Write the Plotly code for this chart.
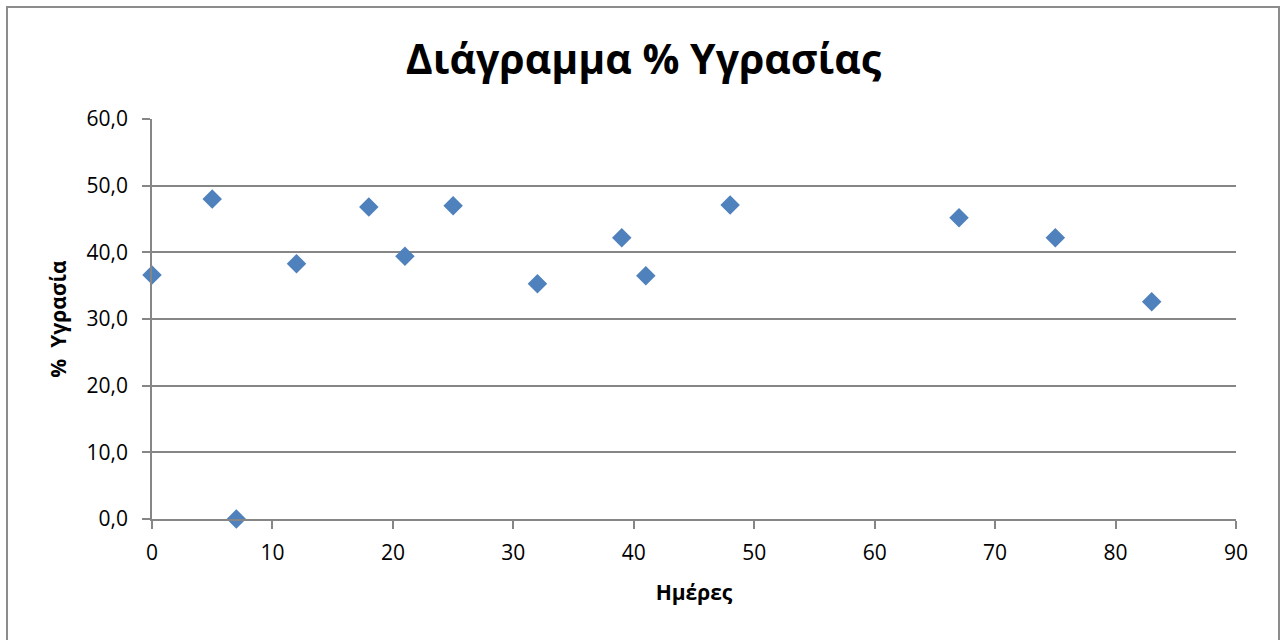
import plotly.graph_objects as go

# Moisture measurements: day number and % moisture
days = [0, 5, 7, 12, 18, 21, 25, 32, 39, 41, 48, 67, 75, 83]
moisture = [36.6, 48.0, 0.0, 38.3, 46.8, 39.4, 47.0, 35.3, 42.2, 36.5, 47.1, 45.2, 42.2, 32.6]

x_ticks = [0, 10, 20, 30, 40, 50, 60, 70, 80, 90]
y_ticks = [0, 10, 20, 30, 40, 50, 60]

FONT = "Open Sans"
GRID = "#868686"

fig = go.Figure()
fig.add_trace(go.Scatter(
    x=days, y=moisture, mode="markers",
    marker=dict(symbol="diamond", size=15, color="#4F81BD",
                line=dict(width=0)),
    cliponaxis=False, showlegend=False,
))

fig.update_layout(
    width=1287, height=640,
    margin=dict(l=152, r=51, t=119, b=121, pad=0),
    paper_bgcolor="white", plot_bgcolor="white",
    separators=",.",
    font=dict(family=FONT, size=21, color="black"),
    title=dict(text="<b>Διάγραμμα % Υγρασίας</b>", x=0.5, xanchor="center",
               y=1 - 60 / 640, yanchor="middle",
               font=dict(family=FONT, size=41, color="black")),
    xaxis=dict(range=[0, 90], tickvals=x_ticks, tickformat="d",
               showgrid=False, zeroline=False,
               showline=True, linecolor=GRID, linewidth=1.5,
               ticks="outside", ticklen=8, tickcolor=GRID, tickwidth=1.5,
               ticklabelstandoff=6,
               title=dict(text="<b>Ημέρες</b>", font=dict(size=21), standoff=20)),
    yaxis=dict(range=[0, 60], tickvals=y_ticks, tickformat=".1f",
               showgrid=True, gridcolor=GRID, gridwidth=1.5,
               zeroline=False,
               showline=True, linecolor=GRID, linewidth=1.5,
               ticks="outside", ticklen=8, tickcolor=GRID, tickwidth=1.5,
               ticklabelstandoff=10,
               title=dict(text="<b>%  Υγρασία</b>", font=dict(size=21), standoff=14)),
)

# Outer chart border
fig.add_shape(type="rect", xref="paper", yref="paper",
              x0=(7 - 152) / 1084, x1=(1279 - 152) / 1084,
              y0=(519 - 680) / 400, y1=(519 - 7) / 400,
              line=dict(color="#8c8c8c", width=2), fillcolor="rgba(0,0,0,0)",
              layer="below")

fig.write_html("out.html")
